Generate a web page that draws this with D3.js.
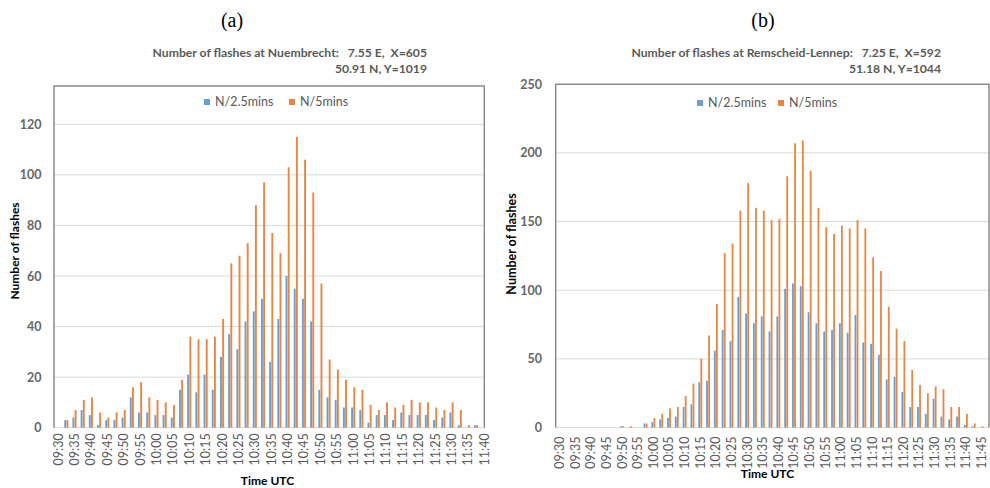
<!DOCTYPE html>
<html>
<head>
<meta charset="utf-8">
<script src="https://cdn.jsdelivr.net/npm/d3@7"></script>
<style>
  html, body { margin: 0; padding: 0; background: #ffffff; }
  svg { display: block; font-family: Lato, "Open Sans", sans-serif; }
  .pre { white-space: pre; }
</style>
</head>
<body>
<svg id="chart" width="990" height="488"></svg>
<script>
// Categories: 2.5-minute intervals (UTC)
const timesA = ["09:30","09:32:30","09:35","09:37:30","09:40","09:42:30","09:45","09:47:30","09:50","09:52:30",
  "09:55","09:57:30","10:00","10:02:30","10:05","10:07:30","10:10","10:12:30","10:15","10:17:30",
  "10:20","10:22:30","10:25","10:27:30","10:30","10:32:30","10:35","10:37:30","10:40","10:42:30",
  "10:45","10:47:30","10:50","10:52:30","10:55","10:57:30","11:00","11:02:30","11:05","11:07:30",
  "11:10","11:12:30","11:15","11:17:30","11:20","11:22:30","11:25","11:27:30","11:30","11:32:30",
  "11:35","11:37:30","11:40"];
const timesB = ["09:30","09:32:30","09:35","09:37:30","09:40","09:42:30","09:45","09:47:30","09:50","09:52:30",
  "09:55","09:57:30","10:00","10:02:30","10:05","10:07:30","10:10","10:12:30","10:15","10:17:30",
  "10:20","10:22:30","10:25","10:27:30","10:30","10:32:30","10:35","10:37:30","10:40","10:42:30",
  "10:45","10:47:30","10:50","10:52:30","10:55","10:57:30","11:00","11:02:30","11:05","11:07:30",
  "11:10","11:12:30","11:15","11:17:30","11:20","11:22:30","11:25","11:27:30","11:30","11:32:30",
  "11:35","11:37:30","11:40","11:42:30","11:45"];

// Tick labels on the time axis (every 5 minutes)
const ticksA = ["09:30","09:35","09:40","09:45","09:50","09:55","10:00","10:05","10:10","10:15",
  "10:20","10:25","10:30","10:35","10:40","10:45","10:50","10:55","11:00","11:05",
  "11:10","11:15","11:20","11:25","11:30","11:35","11:40"];
const ticksB = ["09:30","09:35","09:40","09:45","09:50","09:55","10:00","10:05","10:10","10:15",
  "10:20","10:25","10:30","10:35","10:40","10:45","10:50","10:55","11:00","11:05",
  "11:10","11:15","11:20","11:25","11:30","11:35","11:40","11:45"];

// Nuembrecht: flash counts
const n25A = [0,3,4,7,5,1,3,3,4,12, 6,6,5,5,4,15,21,14,21,15,
  28,37,31,42,46,51,26,43,60,55, 51,42,15,12,11,8,8,7,2,5,
  5,3,6,5,5,5,3,4,6,1, 0,1,0];
const n5A = [0,3,7,11,12,6,4,6,7,16, 18,12,11,10,9,19,36,35,35,36,
  43,65,68,73,88,97,77,69,103,115, 106,93,57,27,23,19,16,15,9,7,
  10,8,9,11,10,10,8,7,10,7, 1,1,0];

// Remscheid-Lennep: flash counts
const n25B = [0,0,0,0,0,0,0,0,1,0, 0,3,4,6,7,8,15,17,33,34,
  56,71,63,95,83,76,81,70,81,101, 105,103,84,76,70,71,76,69,82,62,
  61,53,35,37,26,15,15,10,21,8, 6,8,2,1,0];
const n5B = [0,0,0,0,0,0,0,0,1,1, 0,3,7,10,14,15,23,32,50,67,
  90,127,134,158,178,160,158,151,152,183, 207,209,187,160,146,141,147,145,151,145,
  124,114,88,72,63,42,31,25,30,28, 15,15,10,3,1];

const yTicksA = [0, 20, 40, 60, 80, 100, 120];
const yTicksB = [0, 50, 100, 150, 200, 250];

const seriesNames = ["N/2.5mins", "N/5mins"];
const seriesColors = ["#6a9fd4", "#eb8642"];

const svg = d3.select("#chart");

function drawPanel(cfg) {
  const g = svg.append("g");
  const n = cfg.times.length;
  // step chosen so the last category sits at lastCenter
  const step = (cfg.lastCenter - cfg.left) / (n - 0.5);

  const x = d3.scaleBand()
    .domain(cfg.times)
    .range([cfg.left, cfg.left + n * step])
    .paddingInner(0.5)
    .paddingOuter(0.25);
  const xs = d3.scaleBand().domain([0, 1]).range([0, x.bandwidth()]).paddingInner(0.12);
  const y = d3.scaleLinear().domain([0, cfg.yRef]).range([cfg.base, cfg.yRefPx]);

  // panel letter
  g.append("text")
    .attr("x", cfg.letterX).attr("y", 27)
    .attr("text-anchor", "middle")
    .style("font-family", "'Liberation Serif', 'Times New Roman', serif")
    .style("font-size", "20px").attr("fill", "#000")
    .text(cfg.letter);

  // title (two lines, right aligned)
  cfg.title.forEach((t, i) => {
    g.append("text").attr("class", "pre")
      .attr("x", cfg.titleRight).attr("y", cfg.titleY + i * 15.5)
      .attr("text-anchor", "end")
      .style("font-size", cfg.titleSize + "px").style("font-weight", 700)
      .attr("fill", "#595959")
      .text(t);
  });

  // gridlines
  g.append("g").selectAll("line")
    .data(cfg.yTicks.filter(v => y(v) > cfg.top + 1))
    .join("line")
    .attr("x1", cfg.left).attr("x2", cfg.right)
    .attr("y1", d => y(d)).attr("y2", d => y(d))
    .attr("stroke", "#d9d9d9").attr("stroke-width", 1);

  // frame (left, top, right)
  g.append("path")
    .attr("d", `M${cfg.left},${cfg.base}V${cfg.top}H${cfg.right}V${cfg.base}`)
    .attr("fill", "none").attr("stroke", "#8c8c8c").attr("stroke-width", 1.5);

  // bars
  const series = [cfg.n25, cfg.n5];
  series.forEach((vals, si) => {
    g.append("g").selectAll("rect")
      .data(vals.map((v, i) => ({ t: cfg.times[i], v })))
      .join("rect")
      .attr("x", d => x(d.t) + xs(si))
      .attr("width", xs.bandwidth())
      .attr("y", d => y(d.v))
      .attr("height", d => y(0) - y(d.v))
      .attr("fill", seriesColors[si]);
  });

  // y axis labels
  const yAxis = d3.axisLeft(y).tickValues(cfg.yTicks).tickSize(0).tickPadding(cfg.left - cfg.yLabelRight);
  const ya = g.append("g").attr("transform", `translate(${cfg.left},0)`).call(yAxis);
  ya.select(".domain").remove();
  ya.selectAll("text")
    .style("font-family", "Lato, sans-serif").style("font-size", "12.5px")
    .style("font-weight", 700).attr("fill", "#666666");

  // x axis labels (rotated)
  const xAxis = d3.axisBottom(x).tickValues(cfg.ticks).tickSize(0);
  const xa = g.append("g").attr("transform", `translate(0,${cfg.base})`).call(xAxis);
  xa.select(".domain").remove();
  xa.selectAll("text")
    .attr("transform", "rotate(-90)")
    .attr("x", -cfg.xLabelGap).attr("y", 0).attr("dy", "0.36em")
    .style("text-anchor", "end")
    .style("font-family", "Lato, sans-serif").style("font-size", "12.5px")
    .attr("fill", "#595959");

  // axis titles
  g.append("text")
    .attr("transform", `translate(${cfg.yTitleX},${cfg.yTitleY}) rotate(-90)`)
    .attr("text-anchor", "middle").attr("dy", "0.35em")
    .style("font-size", cfg.yTitleSize + "px").style("font-weight", 700).attr("fill", "#000")
    .text("Number of flashes");
  g.append("text")
    .attr("x", cfg.xTitleX).attr("y", cfg.xTitleY)
    .attr("text-anchor", "middle")
    .style("font-size", "12px").style("font-weight", 700).attr("fill", "#000")
    .text("Time UTC");

  // legend
  seriesNames.forEach((name, i) => {
    const lx = cfg.legendX[i];
    g.append("rect")
      .attr("x", lx).attr("y", cfg.legendY - 3)
      .attr("width", 6).attr("height", 6)
      .attr("fill", seriesColors[i]);
    g.append("text")
      .attr("x", lx + 11).attr("y", cfg.legendY).attr("dy", "0.35em")
      .style("font-size", "12.5px").attr("fill", "#595959")
      .text(name);
  });
}

drawPanel({
  letter: "(a)", letterX: 232,
  title: ["Number of flashes at Nuembrecht:   7.55 E,  X=605", "50.91 N, Y=1019"],
  titleRight: 427, titleY: 57, titleSize: 12.2,
  times: timesA, ticks: ticksA, n25: n25A, n5: n5A,
  left: 54, right: 484.3, lastCenter: 484.3, top: 86, base: 427.7,
  yRef: 120, yRefPx: 124.3, yTicks: yTicksA, yLabelRight: 41.5,
  xLabelGap: 5.6,
  yTitleX: 15, yTitleY: 251, yTitleSize: 12,
  xTitleX: 267.5, xTitleY: 485,
  legendX: [204, 289], legendY: 102
});

drawPanel({
  letter: "(b)", letterX: 763,
  title: ["Number of flashes at Remscheid-Lennep:   7.25 E,  X=592", "51.18 N, Y=1044"],
  titleRight: 941, titleY: 57, titleSize: 12.2,
  times: timesB, ticks: ticksB, n25: n25B, n5: n5B,
  left: 555.7, right: 989, lastCenter: 981.5, top: 84.2, base: 427.6,
  yRef: 250, yRefPx: 84.2, yTicks: yTicksB, yLabelRight: 542,
  xLabelGap: 9,
  yTitleX: 512, yTitleY: 244, yTitleSize: 12.5,
  xTitleX: 767.5, xTitleY: 478,
  legendX: [697, 778], legendY: 103
});
</script>
</body>
</html>
